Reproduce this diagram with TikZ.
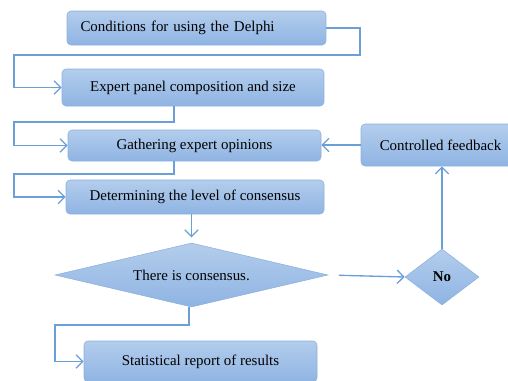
\documentclass[tikz,border=0pt]{standalone}
\usepackage{fontspec}
\setmainfont{Liberation Serif}
\usetikzlibrary{shapes.geometric,arrows.meta}
\definecolor{boxtop}{HTML}{B3CDEC}
\definecolor{boxbot}{HTML}{8FB4E3}
\definecolor{boxline}{HTML}{8CB0DD}
\definecolor{linkcol}{HTML}{6A9FD8}
\tikzset{
	stepbox/.style={rounded corners=3pt,draw=boxline,top color=boxtop,bottom color=boxbot,
		font=\fontsize{11.2}{13}\selectfont,inner sep=0pt},
	decide/.style={diamond,draw=boxline,top color=boxtop,bottom color=boxbot,
		font=\fontsize{11.2}{13}\selectfont,inner sep=0pt},
	link/.style={draw=linkcol,line width=1pt},
	>={Straight Barb[length=5pt,width=10pt,line width=1pt]}
}
\begin{document}
\begin{tikzpicture}[x=0.75pt,y=-0.75pt]
	\useasboundingbox (0,0) rectangle (508,380);
	% boxes
	\node[stepbox,minimum width=194.25pt,minimum height=25.5pt,text width=180pt,align=left] (cond) at (196.5,28) {\hspace*{3pt}Conditions for using the Delphi};
	\node[stepbox,minimum width=196.5pt,minimum height=27.75pt] (panel) at (193,87.5) {Expert panel composition and size};
	\node[stepbox,minimum width=189.75pt,minimum height=23.25pt] (gather) at (194.5,145.5) {Gathering expert opinions};
	\node[stepbox,minimum width=193.5pt,minimum height=25.5pt] (determ) at (195,197) {Determining the level of consensus};
	\node[decide,aspect=4.27,minimum width=204.75pt,minimum height=48pt] (cons) at (191.5,275) {There is consensus.};
	\node[decide,aspect=1.32,minimum width=55.5pt,minimum height=42pt,font=\fontsize{11.2}{13}\selectfont\bfseries] (no) at (442,277) {No};
	\node[stepbox,minimum width=113.25pt,minimum height=31.5pt] (feed) at (436.5,145) {\hspace*{6pt}Controlled feedback};
	\node[stepbox,minimum width=174.75pt,minimum height=30.75pt] (stat) at (200.5,361.5) {Statistical report of results};
	% bends
	\coordinate (c1) at (360,55);
	\coordinate (c2) at (14,55);
	\coordinate (c3) at (174,122);
	\coordinate (c4) at (14,122);
	\coordinate (c5) at (174,174);
	\coordinate (c6) at (14,174);
	\coordinate (c7) at (189,325);
	\coordinate (c8) at (55,325);
	% connectors
	\draw[link,->] (cond.east) -| (c1) -- (c2) |- (panel.west);
	\draw[link,->] (panel.south -| c3) -- (c3) -- (c4) |- (gather.west);
	\draw[link,->] (gather.south -| c5) -- (c5) -- (c6) |- (determ.west);
	\draw[link,->,shorten >=4pt] (determ.south -| cons.north) -- (cons.north);
	\draw[link,->,shorten <=8pt] (cons.east) -- (no.west);
	\draw[link,->] (no.north) -- (no.north |- feed.south);
	\draw[link,->] (feed.west) -- (feed.west -| gather.east);
	\draw[link,->] (cons.south -| c7) -- (c7) -- (c8) |- (stat.west);
\end{tikzpicture}
\end{document}
